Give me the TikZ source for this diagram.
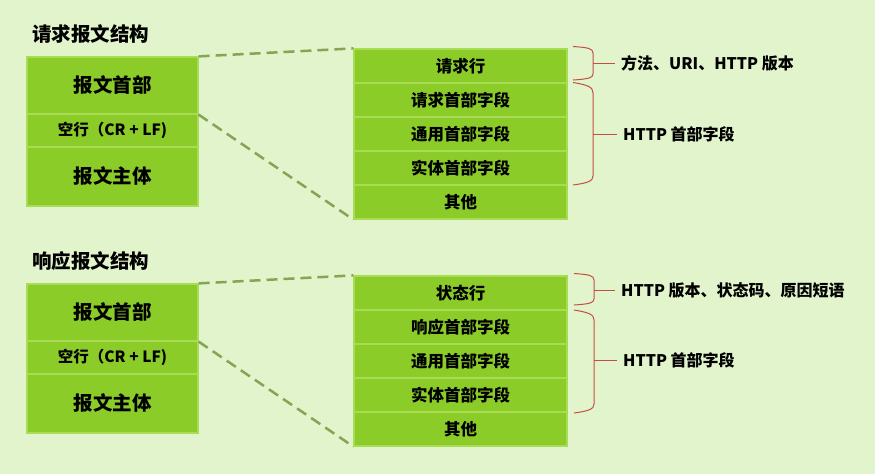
\documentclass[tikz,border=0pt]{standalone}
\usepackage{fontspec}
\setmainfont{Noto Sans CJK SC}
\newfontfamily\cjk{Noto Sans CJK SC}
\usetikzlibrary{calc}
\definecolor{bgc}{RGB}{226,244,203}
\definecolor{cellfill}{RGB}{139,204,41}
\definecolor{cellborder}{RGB}{168,220,84}
\definecolor{dashc}{RGB}{134,164,84}
\definecolor{bracec}{RGB}{196,78,70}
\begin{document}
\begin{tikzpicture}[x=1pt,y=-1pt,
  cellL/.style={draw=cellborder, fill=cellfill, line width=1.2pt, minimum width=171pt, inner sep=0pt, anchor=center, font=\cjk\bfseries\fontsize{19.5}{20}\selectfont},
  cellR/.style={draw=cellborder, fill=cellfill, line width=1.2pt, minimum width=213pt, minimum height=34pt, inner sep=0pt, anchor=center, font=\cjk\bfseries\fontsize{16.5}{18}\selectfont},
  ttl/.style={anchor=west, inner sep=0pt, font=\cjk\bfseries\fontsize{19.5}{20}\selectfont},
  lbl/.style={anchor=west, inner sep=6pt, font=\cjk\bfseries\fontsize{16}{18}\selectfont},
  conn/.style={draw=dashc, line width=2.5pt, dash pattern=on 11pt off 6pt},
  brc/.style={draw=bracec, line width=1pt}]
\fill[bgc] (0,0) rectangle (875,474);
\useasboundingbox (0,0) rectangle (875,474);

% ---------- request ----------
\node[ttl] (t1) at (32,34) {请求报文结构};
\node[cellL, minimum height=57pt] (a1) at (112.5,85.5) {报文首部};
\node[cellL, minimum height=33pt, font=\cjk\bfseries\fontsize{15.5}{17}\selectfont] (a2) at (112.5,130.5) {空行（CR + LF)};
\node[cellL, minimum height=59pt] (a3) at (112.5,176.5) {报文主体};

\node[cellR] (b1) at (460.5,66) {请求行};
\node[cellR] (b2) at (460.5,100) {请求首部字段};
\node[cellR] (b3) at (460.5,134) {通用首部字段};
\node[cellR] (b4) at (460.5,168) {实体首部字段};
\node[cellR] (b5) at (460.5,202) {其他};

\draw[conn] (a1.north east) -- (b1.north west);
\draw[conn] (a1.south east) -- (b5.south west);

\node[lbl] (l1) at (615,63) {方法、URI、HTTP 版本};
\node[lbl] (l2) at (617,134) {HTTP 首部字段};
\draw[brc] (573,46.5) .. controls (588,47.5) and (593,48.5) .. (593,53) -- (593,74) .. controls (593,78) and (588,79) .. (573,80);
\draw[brc] (593,63) -- (l1.west);
\draw[brc] (573,82.5) .. controls (588,85) and (593,87) .. (593,93) -- (593,176) .. controls (593,181) and (588,183) .. (573,185);
\draw[brc] (593,134) -- (l2.west);

% ---------- response ----------
\node[ttl] (t2) at (32,261) {响应报文结构};
\node[cellL, minimum height=57pt] (c1) at (112.5,312.5) {报文首部};
\node[cellL, minimum height=33pt, font=\cjk\bfseries\fontsize{15.5}{17}\selectfont] (c2) at (112.5,357.5) {空行（CR + LF)};
\node[cellL, minimum height=59pt] (c3) at (112.5,403.5) {报文主体};

\node[cellR] (d1) at (460.5,293) {状态行};
\node[cellR] (d2) at (460.5,327) {响应首部字段};
\node[cellR] (d3) at (460.5,361) {通用首部字段};
\node[cellR] (d4) at (460.5,395) {实体首部字段};
\node[cellR] (d5) at (460.5,429) {其他};

\draw[conn] (c1.north east) -- (d1.north west);
\draw[conn] (c1.south east) -- (d5.south west);

\node[lbl] (l3) at (615,290) {HTTP 版本、状态码、原因短语};
\node[lbl] (l4) at (617,360) {HTTP 首部字段};
\draw[brc] (574,273.5) .. controls (589,274.5) and (594,275.5) .. (594,280) -- (594,299) .. controls (594,303) and (589,304) .. (574,305);
\draw[brc] (594,290) -- (l3.west);
\draw[brc] (574,310) .. controls (589,312.5) and (594,314.5) .. (594,320) -- (594,404) .. controls (594,409) and (589,411) .. (574,413);
\draw[brc] (594,360) -- (l4.west);
\end{tikzpicture}
\end{document}
